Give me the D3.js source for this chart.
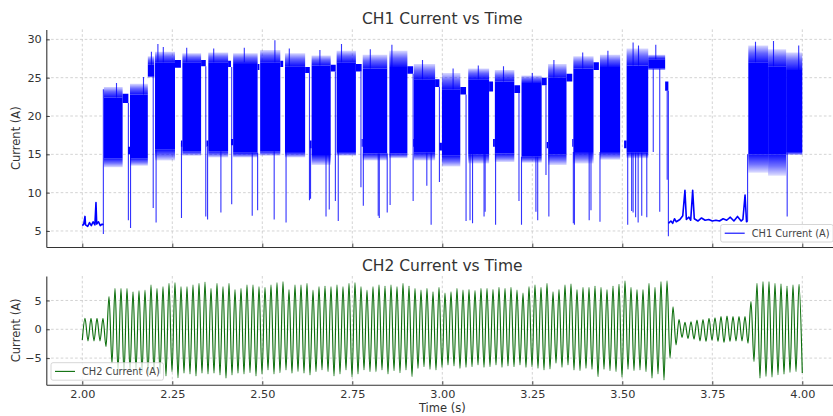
<!DOCTYPE html>
<html><head><meta charset="utf-8">
<script src="https://cdn.jsdelivr.net/npm/d3@7"></script>
<style>
body{margin:0;background:#fff}
svg{display:block}
text{font-family:"DejaVu Sans",sans-serif}
</style>
</head><body>
<svg id="c" width="833" height="416"></svg>
<script>
// ---------------- DATA ----------------
const xTickValues = [2.00, 2.25, 2.50, 2.75, 3.00, 3.25, 3.50, 3.75, 4.00];
const y1TickValues = [5, 10, 15, 20, 25, 30];
const y2TickValues = [-5, 0, 5];

// CH1 dense switching blocks: [tStart, tEnd, low, high, lowestDip, hairyPeak]
const ch1Blocks = [
  [2.060, 2.112, 14.5, 22.4, 13.3, 23.8],
  [2.1325, 2.182, 14.5, 22.8, 13.5, 24.2],
  [2.182, 2.200, 25.2, 26.7, 25.0, 27.8],
  [2.202, 2.2575, 15.6, 27.0, 14.2, 28.4],
  [2.278, 2.330, 15.4, 27.0, 14.8, 28.2],
  [2.350, 2.405, 15.4, 27.0, 14.6, 28.3],
  [2.419, 2.487, 15.2, 26.8, 14.6, 28.2],
  [2.494, 2.550, 15.4, 27.0, 14.8, 28.6],
  [2.563, 2.619, 15.3, 26.5, 14.6, 28.2],
  [2.637, 2.690, 14.9, 26.6, 13.6, 27.9],
  [2.7065, 2.760, 15.3, 27.0, 14.8, 28.5],
  [2.779, 2.847, 15.1, 26.2, 14.2, 28.0],
  [2.853, 2.903, 15.1, 26.4, 14.5, 28.5],
  [2.921, 2.980, 15.2, 24.8, 14.2, 26.8],
  [2.999, 3.050, 14.8, 23.5, 13.4, 25.6],
  [3.072, 3.130, 15.0, 24.8, 13.8, 26.2],
  [3.146, 3.200, 15.1, 24.5, 14.0, 26.0],
  [3.220, 3.276, 14.7, 24.3, 13.9, 25.3],
  [3.294, 3.345, 15.0, 25.0, 13.6, 26.8],
  [3.364, 3.420, 15.3, 26.2, 13.8, 27.8],
  [3.438, 3.494, 15.3, 26.4, 14.3, 28.0],
  [3.512, 3.572, 15.2, 26.6, 14.5, 28.8],
  [3.572, 3.619, 26.2, 27.4, 26.0, 28.0],
  [3.850, 3.905, 15.0, 27.0, 12.6, 29.2],
  [3.905, 3.955, 15.0, 26.5, 12.2, 28.7],
  [3.955, 4.000, 15.3, 26.0, 14.9, 28.3]
];

// CH1 flat shelves between blocks: [tStart, tEnd, low, high]
const ch1Shelves = [
  [2.112, 2.128, 21.7, 22.9], [2.127, 2.1325, 15.0, 16.0],
  [2.2575, 2.274, 26.3, 27.3], [2.274, 2.278, 16.0, 16.8],
  [2.330, 2.343, 26.5, 27.3], [2.345, 2.350, 16.0, 16.8],
  [2.405, 2.413, 26.4, 27.2], [2.413, 2.419, 16.2, 17.0],
  [2.487, 2.492, 26.0, 26.8], [2.550, 2.558, 26.4, 27.2],
  [2.619, 2.632, 25.6, 26.4], [2.632, 2.637, 15.8, 16.8],
  [2.690, 2.704, 25.8, 26.7], [2.760, 2.776, 25.8, 26.8],
  [2.776, 2.779, 16.0, 17.0], [2.903, 2.919, 25.5, 26.5],
  [2.919, 2.921, 16.0, 17.0], [2.980, 2.992, 23.8, 24.8],
  [2.992, 2.999, 15.5, 16.5], [3.050, 3.066, 22.8, 23.8],
  [3.130, 3.141, 23.2, 24.5], [3.141, 3.146, 16.0, 17.0],
  [3.200, 3.216, 23.0, 24.0], [3.276, 3.290, 24.0, 25.0],
  [3.290, 3.294, 15.8, 16.6], [3.345, 3.361, 24.5, 25.5],
  [3.361, 3.364, 16.0, 17.0], [3.420, 3.435, 26.0, 27.0],
  [3.505, 3.512, 15.8, 16.8], [3.619, 3.628, 23.3, 24.5]
];

// CH1 thin downward spikes: [t, from, to]
const ch1DownSpikes = [
  [2.0585, 23.5, 4.6], [2.128, 21.7, 6.4], [2.134, 15.0, 5.4], [2.197, 25.2, 8.0],
  [2.205, 15.6, 6.1], [2.2755, 16.5, 6.7], [2.343, 26.5, 6.9], [2.348, 16.0, 6.5],
  [2.385, 15.4, 7.4], [2.415, 26.4, 8.5], [2.472, 15.2, 7.0], [2.487, 15.2, 7.7],
  [2.533, 15.4, 6.5], [2.566, 15.3, 6.1], [2.631, 25.6, 9.0], [2.634, 16.0, 9.2],
  [2.677, 14.9, 6.9], [2.686, 14.9, 7.8], [2.703, 25.8, 8.9], [2.711, 15.3, 6.3],
  [2.774, 25.8, 10.7], [2.7806, 15.1, 8.3], [2.822, 15.1, 7.0], [2.825, 15.1, 6.7],
  [2.847, 15.1, 7.4], [2.855, 15.1, 8.4], [2.919, 25.5, 8.9], [2.957, 15.2, 10.9],
  [2.969, 15.2, 5.8], [2.992, 23.8, 11.4], [3.066, 22.8, 6.3], [3.077, 15.0, 6.4],
  [3.084, 15.0, 6.0], [3.116, 15.0, 6.9], [3.119, 15.0, 7.5], [3.148, 15.1, 5.8],
  [3.213, 23.0, 8.9], [3.220, 14.7, 5.8], [3.260, 14.7, 7.5], [3.265, 14.7, 6.4],
  [3.288, 24.0, 12.3], [3.296, 15.0, 6.9], [3.364, 15.3, 6.0], [3.367, 15.3, 5.8],
  [3.408, 15.3, 6.4], [3.413, 15.3, 7.7], [3.438, 15.3, 6.2], [3.515, 15.2, 5.8],
  [3.526, 15.2, 7.6], [3.530, 15.2, 7.4], [3.537, 15.2, 6.8], [3.544, 15.2, 6.1],
  [3.554, 15.2, 7.0], [3.568, 15.2, 6.8], [3.586, 26.2, 15.3], [3.604, 26.2, 7.5],
  [3.6247, 23.3, 11.7], [3.628, 23.3, 4.3], [3.848, 6.3, 15.0], [3.958, 15.2, 6.9]
];

// CH1 thin upward spikes: [t, from, to]
const ch1UpSpikes = [
  [2.095, 22.4, 24.3], [2.170, 22.8, 25.1], [2.192, 26.7, 28.4], [2.210, 27.0, 29.4],
  [2.225, 27.0, 29.0], [2.290, 27.0, 28.9], [2.365, 27.0, 28.8], [2.450, 27.0, 28.9],
  [2.535, 27.0, 29.9], [2.575, 26.5, 28.8], [2.660, 26.6, 28.6], [2.720, 27.0, 29.4],
  [2.800, 26.2, 28.7], [2.860, 26.4, 29.3], [2.945, 24.8, 27.3], [3.030, 23.5, 26.2],
  [3.100, 24.8, 26.6], [3.170, 24.5, 26.5], [3.250, 24.3, 25.6], [3.310, 25.0, 27.3],
  [3.390, 26.2, 28.3], [3.460, 26.4, 28.5], [3.530, 26.6, 29.6], [3.545, 26.6, 29.2],
  [3.593, 27.4, 29.3], [3.870, 27.0, 29.7], [3.920, 26.5, 29.8], [3.990, 26.0, 29.2]
];

// CH1 idle baseline samples: [t, value]
const ch1BaseA = [
  [2.000, 5.7], [2.004, 5.9], [2.0075, 6.9], [2.009, 5.8], [2.015, 5.6], [2.020, 6.1],
  [2.025, 5.7], [2.030, 6.2], [2.035, 5.8], [2.038, 8.7], [2.040, 5.9], [2.045, 6.2],
  [2.050, 5.7], [2.055, 5.9], [2.0585, 5.8]
];
const ch1BaseB = [
  [3.628, 6.0], [3.635, 6.3], [3.640, 6.0], [3.645, 6.6], [3.650, 6.2], [3.660, 6.5],
  [3.668, 7.0], [3.674, 10.3], [3.678, 6.5], [3.685, 6.8], [3.690, 6.4], [3.6955, 10.3],
  [3.700, 6.6], [3.710, 6.3], [3.720, 6.7], [3.730, 6.4], [3.740, 6.5], [3.750, 6.3],
  [3.760, 6.4], [3.770, 6.3], [3.780, 6.6], [3.790, 6.4], [3.800, 6.8], [3.810, 6.3],
  [3.820, 6.9], [3.830, 6.3], [3.835, 6.5], [3.841, 9.7], [3.845, 6.2], [3.848, 6.3]
];

// CH2: 60 Hz waveform, per-cycle peak and trough values
const ch2StartPoint = [2.000, -1.86];
const ch2EndPoint = [4.000, -7.6];
const ch2FirstPeakTime = 2.0075;
const ch2Period = 1 / 60;
const ch2Peaks = [
  1.9,1.9,1.9,1.9,5.7,7.1,7.1,7.1,6.5,6.7,6.8,7.7,7.1,7.4,8.0,8.1,7.4,7.4,7.7,8.0,
  8.2,7.1,8.0,7.4,8.0,6.9,7.1,7.7,7.7,7.4,7.3,7.7,8.1,
  8.3,6.9,7.7,7.7,8.0,6.8,7.4,7.5,7.4,7.7,7.4,8.0,8.1,7.4,6.8,7.4,7.7,7.5,7.7,7.4,
  8.0,7.5,7.1,6.8,7.1,6.5,7.3,6.3,6.5,7.1,6.8,6.9,6.7,7.1,7.1,6.9,7.3,7.1,7.3,6.8,
  6.3,7.4,7.7,7.3,8.0,
  6.5,6.9,7.7,7.9,6.9,7.3,7.3,7.5,7.3,6.9,7.5,7.8,8.4,7.3,6.9,6.9,8.0,7.3,8.3,8.4,
  3.9,1.7,1.2,1.3,1.6,1.7,1.9,2.0,2.2,2.3,2.2,2.2,2.2,
  4.8,8.0,8.3,8.3,8.0,7.9,7.5,7.7,7.8
];
const ch2Troughs = [
  -2.0,-2.0,-2.0,-3.0,
  -5.9,-7.2,-7.6,-7.3,-7.0,-7.4,-7.8,-7.5,-7.7,
  -8.1,-7.35,-8.4,-7.64,-7.76,-8.1,-7.64,-7.76,-7.64,-7.93,-8.5,-7.93,-7.64,-7.76,-7.53,-8.1,-7.76,-7.06,
  -7.76,-7.53,-7.06,-7.64,-7.35,-7.64,-7.93,-7.35,-7.06,-7.35,-8.1,-7.76,-7.06,-8.22,-7.76,-7.06,
  -7.35,-7.35,-7.06,-7.76,-7.18,-7.53,-7.06,-8.22,-6.78,-6.49,-6.95,-7.06,-6.6,-6.2,-6.37,-6.78,
  -6.6,-6.49,-6.2,-6.6,-6.49,-6.2,-6.6,-6.37,-6.49,-6.2,-6.6,-6.49,-6.78,-7.06,
  -6.9,
  -5.9,-6.6,-6.2,-7.06,-7.18,-6.78,-6.95,-8.22,-6.95,-7.18,-7.35,-8.33,-6.95,-7.18,-7.06,-7.35,-8.5,-7.76,-8.79,
  -5.0,-2.7,-1.4,-1.6,-1.7,-2.0,-2.1,-1.9,-2.1,-2.3,-2.1,-2.0,-2.0,-2.4,
  -5.6,-8.5,-8.2,-8.3,-7.9,-7.8,-7.5,-7.35
];

// ---------------- CHART ----------------
const svg = d3.select("#c");
const textColor = "#333";
const gridColor = "#c8c8c8";
const blue = "#0000ff";
const green = "#0b6e0b";

const x = d3.scaleLinear().domain([1.9, 4.1]).range([46.3, 838.3]);
const y1 = d3.scaleLinear().domain([2.91, 31.3]).range([247, 29.4]);
const y2 = d3.scaleLinear().domain([-9.62, 9.25]).range([384.7, 276]);

const defs = svg.append("defs");
const gUp = defs.append("linearGradient").attr("id", "hairUp")
  .attr("x1", 0).attr("y1", 1).attr("x2", 0).attr("y2", 0);
gUp.append("stop").attr("offset", "0%").attr("stop-color", blue).attr("stop-opacity", 0.95);
gUp.append("stop").attr("offset", "55%").attr("stop-color", blue).attr("stop-opacity", 0.6);
gUp.append("stop").attr("offset", "100%").attr("stop-color", blue).attr("stop-opacity", 0.15);
const gDn = defs.append("linearGradient").attr("id", "hairDn")
  .attr("x1", 0).attr("y1", 0).attr("x2", 0).attr("y2", 1);
gDn.append("stop").attr("offset", "0%").attr("stop-color", blue).attr("stop-opacity", 0.95);
gDn.append("stop").attr("offset", "55%").attr("stop-color", blue).attr("stop-opacity", 0.55);
gDn.append("stop").attr("offset", "100%").attr("stop-color", blue).attr("stop-opacity", 0.12);

function panel(yScale, yTicks, clipId) {
  const [yb, yt] = yScale.range();
  const [xl, xr] = x.range();
  const g = svg.append("g");
  defs.append("clipPath").attr("id", clipId).append("rect")
    .attr("x", xl).attr("y", yt).attr("width", xr - xl).attr("height", yb - yt);
  g.append("g").selectAll("line").data(xTickValues).join("line")
    .attr("x1", d => x(d)).attr("x2", d => x(d)).attr("y1", yt).attr("y2", yb)
    .attr("stroke", gridColor).attr("stroke-width", 0.8).attr("stroke-dasharray", "2.6,2.2");
  g.append("g").selectAll("line").data(yTicks).join("line")
    .attr("x1", xl).attr("x2", xr).attr("y1", d => yScale(d)).attr("y2", d => yScale(d))
    .attr("stroke", gridColor).attr("stroke-width", 0.8).attr("stroke-dasharray", "2.6,2.2");
  return g;
}
function axes(yScale, yTicks, showXLabels) {
  const [yb] = yScale.range();
  const ax = svg.append("g").attr("transform", `translate(0,${yb})`)
    .call(d3.axisBottom(x).tickValues(xTickValues).tickSize(-3.5).tickSizeOuter(0).tickPadding(5.5)
      .tickFormat(showXLabels ? d3.format(".2f") : ""));
  const ay = svg.append("g").attr("transform", `translate(${x.range()[0]},0)`)
    .call(d3.axisLeft(yScale).tickValues(yTicks).tickSize(-3.5).tickSizeOuter(0).tickPadding(4.5)
      .tickFormat(d => d < 0 ? "\u2212" + Math.abs(d) : d));
  [ax, ay].forEach(a => {
    a.select(".domain").attr("stroke", textColor).attr("stroke-width", 1.1);
    a.selectAll(".tick line").attr("stroke", textColor).attr("stroke-width", 0.9);
    a.selectAll(".tick text").attr("fill", textColor).style("font-size", "11.3px")
      .style("font-family", "DejaVu Sans, sans-serif");
  });
}

// ---- Panel 1 ----
panel(y1, y1TickValues, "clip1");
const p1 = svg.append("g").attr("clip-path", "url(#clip1)");
const bandArea = d3.area().x(d => x(d[0])).y0(d => y1(d[1])).y1(d => y1(d[2]));
p1.append("g").selectAll("path").data(ch1Blocks).join("path")
  .attr("d", b => bandArea([[b[0], b[3], b[5]], [b[1], b[3], b[5]]]))
  .attr("fill", "url(#hairUp)");
p1.append("g").selectAll("path").data(ch1Blocks).join("path")
  .attr("d", b => bandArea([[b[0], b[4], b[2]], [b[1], b[4], b[2]]]))
  .attr("fill", "url(#hairDn)");
p1.append("g").selectAll("path").data(ch1Blocks).join("path")
  .attr("d", b => bandArea([[b[0], b[2], b[3]], [b[1], b[2], b[3]]]))
  .attr("fill", blue);
p1.append("g").selectAll("path").data(ch1Shelves).join("path")
  .attr("d", b => bandArea([[b[0], b[2], b[3]], [b[1], b[2], b[3]]]))
  .attr("fill", blue);
p1.append("g").selectAll("line").data(ch1DownSpikes.concat(ch1UpSpikes)).join("line")
  .attr("x1", d => x(d[0])).attr("x2", d => x(d[0]))
  .attr("y1", d => y1(d[1])).attr("y2", d => y1(d[2]))
  .attr("stroke", blue).attr("stroke-width", 1.1).attr("stroke-opacity", 0.8);
const line1 = d3.line().x(d => x(d[0])).y(d => y1(d[1]));
[ch1BaseA, ch1BaseB].forEach(seg => {
  p1.append("path").attr("d", line1(seg)).attr("fill", "none")
    .attr("stroke", blue).attr("stroke-width", 1.6).attr("stroke-linejoin", "round");
});
axes(y1, y1TickValues, false);

// ---- Panel 2 ----
panel(y2, y2TickValues, "clip2");
const p2 = svg.append("g").attr("clip-path", "url(#clip2)");
const ch2Points = [ch2StartPoint];
ch2Peaks.forEach((pk, k) => {
  const t = ch2FirstPeakTime + k * ch2Period;
  ch2Points.push([t, pk]);
  if (k < ch2Troughs.length) ch2Points.push([t + ch2Period / 2, ch2Troughs[k]]);
});
ch2Points.push(ch2EndPoint);
p2.append("path")
  .attr("d", d3.line().x(d => x(d[0])).y(d => y2(d[1])).curve(d3.curveMonotoneX)(ch2Points))
  .attr("fill", "none").attr("stroke", green).attr("stroke-width", 1.15);
axes(y2, y2TickValues, true);

// ---- Titles & labels ----
const cx = (x.range()[0] + x.range()[1]) / 2;
svg.append("text").attr("x", cx).attr("y", 24).attr("text-anchor", "middle")
  .attr("fill", textColor).style("font-size", "15.5px").text("CH1 Current vs Time");
svg.append("text").attr("x", cx).attr("y", 271).attr("text-anchor", "middle")
  .attr("fill", textColor).style("font-size", "15.5px").text("CH2 Current vs Time");
svg.append("text").attr("x", cx).attr("y", 412).attr("text-anchor", "middle")
  .attr("fill", textColor).style("font-size", "11.5px").text("Time (s)");
[y1, y2].forEach(ys => {
  const cy = (ys.range()[0] + ys.range()[1]) / 2;
  svg.append("text").attr("transform", `translate(19.5,${cy}) rotate(-90)`)
    .attr("text-anchor", "middle").attr("fill", textColor).style("font-size", "11.5px").text("Current (A)");
});

// ---- Legends ----
function legend(x0, y0, color, label) {
  const g = svg.append("g");
  g.append("rect").attr("x", x0).attr("y", y0).attr("width", 112.5).attr("height", 17.5)
    .attr("rx", 2).attr("fill", "#fff").attr("fill-opacity", 0.8)
    .attr("stroke", "#cccccc").attr("stroke-width", 0.8);
  g.append("line").attr("x1", x0 + 4).attr("x2", x0 + 24).attr("y1", y0 + 8.7).attr("y2", y0 + 8.7)
    .attr("stroke", color).attr("stroke-width", 1.1);
  g.append("text").attr("x", x0 + 31).attr("y", y0 + 12.2).attr("fill", "#444")
    .style("font-size", "9.8px").text(label);
}
legend(720.7, 224.5, blue, "CH1 Current (A)");
legend(51, 362.7, green, "CH2 Current (A)");
</script>
</body></html>
